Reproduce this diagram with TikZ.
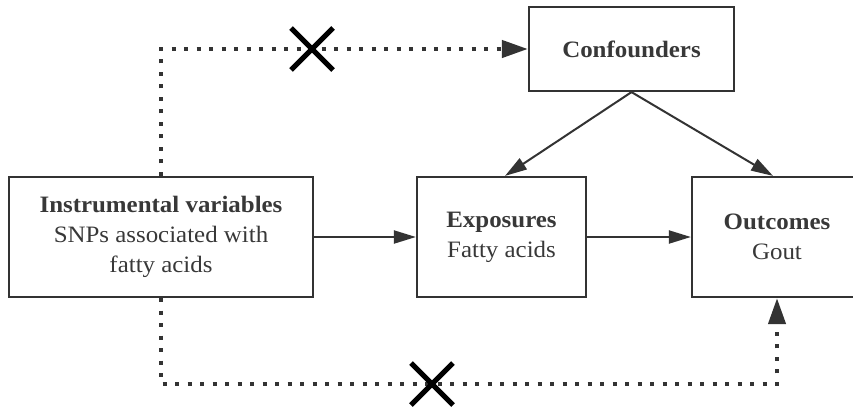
\documentclass[tikz,border=0pt]{standalone}
\usepackage{fontspec}
\setmainfont{Liberation Serif}[FakeStretch=1.06]
\usetikzlibrary{arrows.meta,calc}
\definecolor{ink}{HTML}{333333}
\definecolor{txt}{HTML}{383838}
\tikzset{
  box/.style={draw=ink, line width=2.2pt, rectangle, align=center, inner sep=0pt,
              text=txt, font=\fontsize{23.5}{30}\selectfont},
  solidarrow/.style={draw=ink, line width=2pt, -{Triangle[length=22pt,width=13pt]}, ink},
  dotarrow/.style={draw=ink, line width=4.2pt, dash pattern=on 4.2pt off 8.3pt,
                   -{Triangle[length=26pt,width=17pt]}, ink},
  xmark/.style={draw=black, line width=5pt}
}
\begin{document}
\begin{tikzpicture}[x=1pt,y=-1pt]
\useasboundingbox (0,0) rectangle (853,410);
\node[box, minimum width=304pt, minimum height=120pt] (iv) at (161,237)
  {\textbf{Instrumental variables}\\SNPs associated with\\fatty acids};
\node[box, minimum width=169pt, minimum height=120pt] (exp) at (501.5,237)
  {\textbf{Exposures}\\Fatty acids};
\node[box, minimum width=170pt, minimum height=120pt] (out) at (777,237)
  {\textbf{Outcomes}\\Gout};
\node[box, minimum width=205pt, minimum height=84pt] (conf) at (631.5,49)
  {\textbf{Confounders}};
% solid arrows
\draw[solidarrow] (iv.east) -- (exp.west);
\draw[solidarrow] (exp.east) -- (out.west);
\draw[solidarrow] (conf.south) -- ($(exp.north)+(3.5,0)$);
\draw[solidarrow] (conf.south) -- ($(out.north)+(-4,0)$);
% dotted paths
\draw[dotarrow] (iv.north) |- (conf.west);
\coordinate (bl) at (161,384);
\draw[dotarrow] (iv.south) -- (bl) -| (out.south);
% crosses
\coordinate (xa) at (312,49);
\coordinate (xb) at (432,384);
\draw[xmark] (xa) +(-21,-21) -- +(21,21);
\draw[xmark] (xa) +(-21,21) -- +(21,-21);
\draw[xmark] (xb) +(-21,-21) -- +(21,21);
\draw[xmark] (xb) +(-21,21) -- +(21,-21);
\end{tikzpicture}
\end{document}
